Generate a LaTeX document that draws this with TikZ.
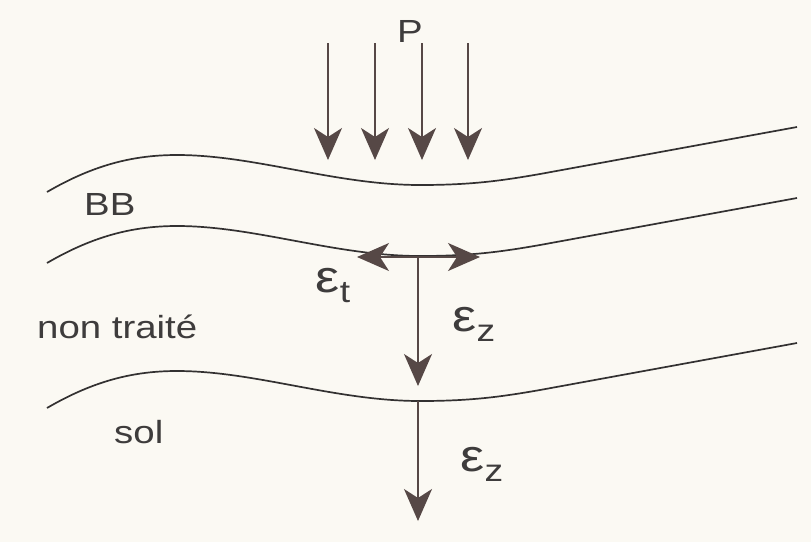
\documentclass[tikz,border=0pt]{standalone}
\usepackage{fontspec}
\setmainfont{Liberation Sans}[FakeStretch=1.2]
\usepackage{tikz}
\usetikzlibrary{arrows.meta}
\definecolor{paper}{HTML}{FBF9F3}
\definecolor{ink}{HTML}{333131}
\definecolor{umber}{HTML}{564846}
\definecolor{graytext}{HTML}{3E3C3C}
\newcommand{\strain}[1]{{\fontsize{45}{45}\selectfont ε}\raisebox{-10pt}{\fontsize{31}{31}\selectfont #1}}

\begin{document}
\begin{tikzpicture}[x=1pt, y=-1pt,
  layer/.style={draw=ink, line width=1.7pt},
  loadarrow/.style={draw=umber, line width=1.6pt, -{Stealth[length=32pt, width=28pt, inset=9pt]}},
  twoway/.style={draw=umber, line width=1.6pt, {Stealth[length=32pt, width=28pt, inset=9pt]}-{Stealth[length=32pt, width=28pt, inset=9pt]}},
  layername/.style={anchor=base west, inner sep=0pt, text=graytext, font=\fontsize{32}{32}\selectfont},
  strainlabel/.style={inner sep=0pt, text=graytext}]
\useasboundingbox (0,0) rectangle (811,542);
\fill[paper] (0,0) rectangle (811,542);

% layer boundaries
\draw[layer] (47,192) .. controls (95,164) and (135,155) .. (177,155) .. controls (255,155) and (335,185) .. (420,185) .. controls (470,185) and (500,181) .. (540,174) -- (797,127);
\begin{scope}[yshift=-71pt]
\draw[layer] (47,192) .. controls (95,164) and (135,155) .. (177,155) .. controls (255,155) and (335,185) .. (420,185) .. controls (470,185) and (500,181) .. (540,174) -- (797,127);
\end{scope}
\begin{scope}[yshift=-216pt]
\draw[layer] (47,192) .. controls (95,164) and (135,155) .. (177,155) .. controls (255,155) and (335,185) .. (420,185) .. controls (470,185) and (500,181) .. (540,174) -- (797,127);
\end{scope}

% load P
\node[layername] (load) at (397,42) {P};
\foreach \x [count=\i] in {328,375,422,468} {
  \coordinate (p\i top) at (\x,43);
  \coordinate (p\i tip) at (\x,160);
  \draw[loadarrow] (p\i top) -- (p\i tip);
}

% strains
\coordinate (base left) at (357,257);
\coordinate (base right) at (480,257);
\coordinate (base mid) at (418,256);
\coordinate (base end) at (418,386);
\coordinate (soil top) at (418,401);
\coordinate (soil end) at (418,521);
\draw[twoway] (base left) -- (base right);
\draw[loadarrow] (base mid) -- (base end);
\draw[loadarrow] (soil top) -- (soil end);

\node[strainlabel] (eps t) at (333,286) {\strain{t}};
\node[strainlabel] (eps z base) at (474,324) {\strain{z}};
\node[strainlabel] (eps z soil) at (482,464) {\strain{z}};

% layer names
\node[layername] (bb) at (84,215) {BB};
\node[layername] (untreated) at (37,338) {non traité};
\node[layername] (soil) at (114,443) {sol};
\end{tikzpicture}
\end{document}
